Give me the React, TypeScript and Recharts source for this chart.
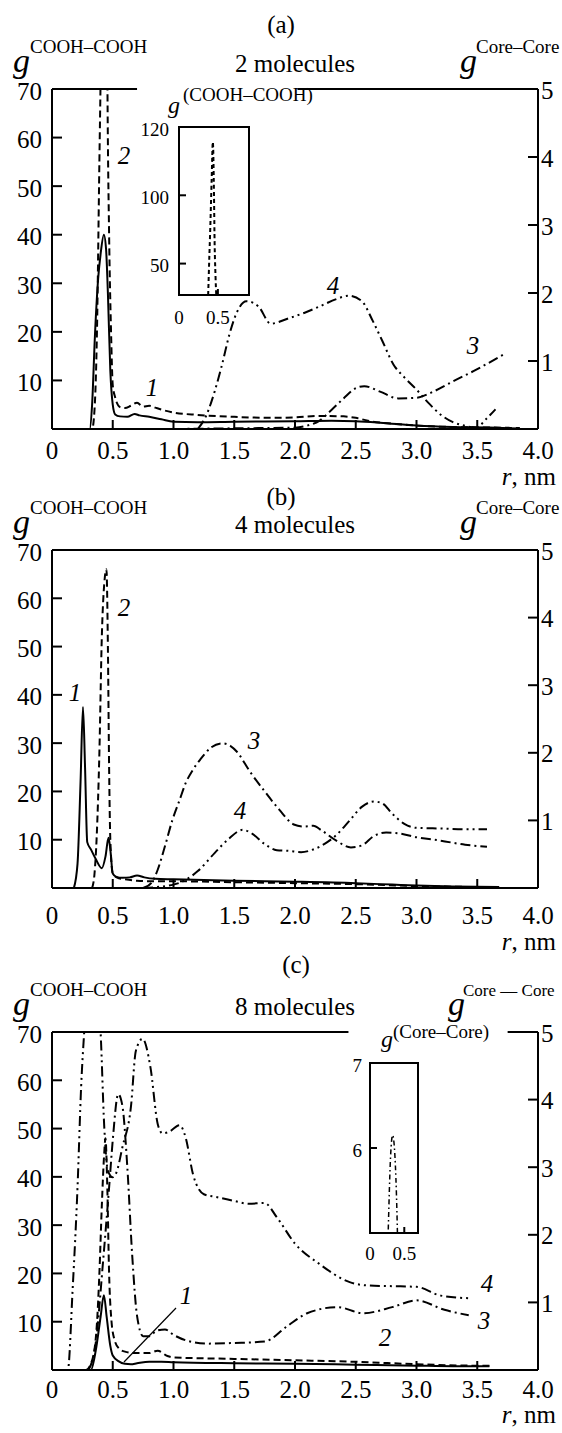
import React from 'react';
import { LineChart, Line, XAxis, YAxis, ReferenceLine, ReferenceArea } from 'recharts';

const FONT = 'Liberation Serif';

// ---------- axis ticks ----------
const xTicks = [0, 0.5, 1, 1.5, 2, 2.5, 3, 3.5, 4];
const xInner = [0.5, 1, 1.5, 2, 2.5, 3, 3.5];
const leftTicks = [10, 20, 30, 40, 50, 60, 70];
const leftInner = [10, 20, 30, 40, 50, 60];
const rightTicks = [1, 2, 3, 4, 5];
const rightInner = [1, 2, 3, 4];
const insetAXTicks = [0, 0.5];
const insetAYTicks = [50, 100];
const insetCXTicks = [0, 0.5];
const insetCYTicks = [6, 7];

// ---------- panel (a): 2 molecules ----------
const a1x = [0, 0.31, 0.33, 0.353, 0.38, 0.4, 0.427, 0.445, 0.46, 0.48, 0.5, 0.52, 0.56, 0.62, 0.68, 0.72, 0.8, 0.9, 1.0, 1.2, 1.5, 2.0, 2.3, 2.5, 2.7, 3.0, 3.3, 3.6, 3.85];
const a1y = [0, 0, 5, 19, 31, 36, 40, 37, 28, 12, 5, 3, 2.6, 2.5, 3.1, 2.8, 2.5, 2.0, 1.5, 1.4, 1.5, 1.6, 1.7, 1.6, 1.3, 0.7, 0.4, 0.3, 0.1];
const a2x = [0, 0.33, 0.35, 0.37, 0.39, 0.4, 0.42, 0.435, 0.45, 0.456, 0.47, 0.486, 0.5, 0.52, 0.56, 0.6, 0.65, 0.7, 0.75, 0.8, 0.85, 0.9, 1.0, 1.2, 1.5, 1.8, 2.0, 2.2, 2.4, 2.5, 2.6, 2.8, 3.0, 3.3, 3.6, 3.85];
const a2y = [0, 0, 4, 20, 55, 72, 112, 139, 100, 72, 40, 20, 9, 6.5, 4.5, 4.3, 4.8, 5.4, 4.6, 4.8, 4.4, 4.0, 3.4, 2.9, 2.5, 2.3, 2.4, 2.7, 2.6, 2.3, 1.7, 1.1, 0.7, 0.4, 0.3, 0.2];
const a3x = [1.0, 1.5, 2.0, 2.1, 2.2, 2.3, 2.4, 2.5, 2.57, 2.7, 2.85, 3.0, 3.15, 3.3, 3.5, 3.72];
const a3y = [0, 0.01, 0.02, 0.05, 0.12, 0.28, 0.45, 0.6, 0.63, 0.55, 0.45, 0.46, 0.56, 0.7, 0.88, 1.1];
const a4x = [1.2, 1.27, 1.34, 1.4, 1.46, 1.52, 1.6, 1.7, 1.8, 1.95, 2.08, 2.2, 2.34, 2.44, 2.55, 2.64, 2.72, 2.81, 2.9, 3.0, 3.1, 3.2, 3.3, 3.37, 3.49, 3.58, 3.65];
const a4y = [0, 0.2, 0.56, 0.95, 1.39, 1.71, 1.88, 1.8, 1.55, 1.63, 1.71, 1.8, 1.91, 1.96, 1.88, 1.59, 1.29, 0.95, 0.76, 0.58, 0.38, 0.21, 0.1, 0.06, 0.02, 0.16, 0.29];

// ---------- panel (b): 4 molecules ----------
const b1x = [0.18, 0.21, 0.235, 0.255, 0.272, 0.29, 0.32, 0.36, 0.41, 0.44, 0.465, 0.48, 0.5, 0.53, 0.58, 0.64, 0.7, 0.76, 0.85, 1.0, 1.5, 2.0, 2.5, 2.8, 3.0, 3.3, 3.68];
const b1y = [0, 5, 22, 37.5, 25, 9.5, 8, 6, 4.1, 6.5, 10.4, 8, 3, 2.3, 2.1, 2.2, 2.6, 2.2, 1.9, 1.8, 1.5, 1.3, 1.0, 0.7, 0.5, 0.3, 0.2];
const b2x = [0.33, 0.35, 0.368, 0.39, 0.41, 0.43, 0.448, 0.46, 0.47, 0.48, 0.5, 0.55, 0.6, 0.7, 0.8, 1.0, 1.5, 2.0, 2.5, 3.0, 3.5, 3.68];
const b2y = [0, 3, 10.7, 28, 52, 63, 66, 50, 25, 10, 3, 2, 1.8, 1.5, 1.4, 1.4, 1.2, 1.0, 0.8, 0.4, 0.2, 0.15];
const b3x = [0.75, 0.82, 0.87, 0.93, 0.99, 1.05, 1.1, 1.16, 1.22, 1.31, 1.4, 1.47, 1.52, 1.63, 1.75, 1.87, 1.99, 2.07, 2.15, 2.22, 2.34, 2.46, 2.55, 2.65, 2.75, 2.85, 3.0, 3.2, 3.4, 3.58];
const b3y = [0, 0.08, 0.27, 0.62, 1.0, 1.3, 1.55, 1.75, 1.9, 2.08, 2.14, 2.1, 2.02, 1.72, 1.43, 1.16, 0.94, 0.91, 0.92, 0.85, 0.7, 0.6, 0.63, 0.77, 0.82, 0.81, 0.75, 0.7, 0.64, 0.61];
const b4x = [0.75, 1.0, 1.1, 1.2, 1.34, 1.45, 1.57, 1.65, 1.75, 1.85, 1.95, 2.05, 2.15, 2.25, 2.35, 2.45, 2.55, 2.65, 2.72, 2.8, 2.9, 3.0, 3.2, 3.4, 3.58];
const b4y = [0, 0.05, 0.12, 0.25, 0.52, 0.72, 0.86, 0.8, 0.65, 0.56, 0.55, 0.53, 0.57, 0.66, 0.8, 1.0, 1.2, 1.28, 1.25, 1.1, 0.95, 0.89, 0.88, 0.87, 0.87];

// ---------- panel (c): 8 molecules ----------
const c1x = [0, 0.32, 0.36, 0.4, 0.427, 0.45, 0.48, 0.5, 0.55, 0.6, 0.65, 0.7, 0.8, 0.9, 1.0, 1.5, 2.0, 2.5, 3.0, 3.3, 3.6];
const c1y = [0, 0, 4, 11, 15.5, 11, 5, 3, 1.8, 1.3, 1.2, 1.4, 1.7, 1.7, 1.6, 1.4, 1.3, 1.1, 0.9, 0.8, 0.8];
const c2x = [0, 0.28, 0.33, 0.37, 0.39, 0.41, 0.43, 0.44, 0.455, 0.47, 0.49, 0.515, 0.55, 0.6, 0.7, 0.8, 0.87, 0.95, 1.0, 1.5, 2.0, 2.5, 3.0, 3.5, 3.6];
const c2y = [0, 0, 2, 9.7, 20, 34, 45, 48, 38, 20, 10, 6.2, 4.5, 3.8, 3.5, 3.5, 4, 2.9, 2.6, 2.3, 2.0, 1.7, 1.2, 0.9, 0.9];
const c3x = [0.3, 0.36, 0.42, 0.47, 0.5, 0.545, 0.58, 0.62, 0.66, 0.7, 0.75, 0.8, 0.86, 0.93, 1.0, 1.1, 1.28, 1.5, 1.75, 1.93, 2.1, 2.35, 2.56, 2.8, 3.0, 3.23, 3.43];
const c3y = [0, 0.4, 1.6, 2.7, 3.4, 4.08, 3.9, 3.0, 1.7, 0.8, 0.5, 0.5, 0.58, 0.6, 0.52, 0.44, 0.39, 0.4, 0.42, 0.64, 0.84, 0.93, 0.84, 0.93, 1.03, 0.89, 0.81];
const c4x = [0, 0.13, 0.17, 0.21, 0.24, 0.265, 0.3, 0.33, 0.37, 0.4, 0.43, 0.46, 0.5, 0.53, 0.58, 0.65, 0.69, 0.745, 0.81, 0.87, 0.91, 0.96, 1.05, 1.1, 1.16, 1.25, 1.35, 1.5, 1.62, 1.75, 1.85, 2.0, 2.2, 2.45, 2.6, 2.8, 3.0, 3.2, 3.45];
const c4y = [0, 0, 1.2, 2.7, 4.2, 5.0, 5.9, 6.15, 5.8, 5.0, 3.6, 2.95, 2.85, 2.92, 3.3, 3.9, 4.72, 4.9, 4.48, 3.64, 3.5, 3.52, 3.62, 3.44, 2.9, 2.6, 2.56, 2.5, 2.46, 2.47, 2.26, 1.87, 1.57, 1.3, 1.25, 1.24, 1.23, 1.1, 1.06];

const mk = (xs: number[], ys: number[]) => xs.map((x, i) => ({ x, y: ys[i] }));

const DASH2 = '7 4';
const DASH3 = '10 4 2 4';
const DASH4 = '10 4 2 4 2 4';

const near = (list: number[], v: number) => list.some((t) => Math.abs(t - v) < 1e-6);
const fmtX = (v: number) => (v === 0 ? '0' : v.toFixed(1));
const fmtY = (v: number) => String(v);

const tStyle = (size: number, italic = false): React.CSSProperties => ({
  fontFamily: FONT,
  fontSize: size,
  fontStyle: italic ? 'italic' : 'normal',
  fill: '#000',
});

function XTick(props: any) {
  const { x, y, payload, inner, len, dy, size, fmt } = props;
  const v = payload.value;
  return (
    <g>
      {near(inner, v) && <line x1={x} x2={x} y1={y} y2={y - len} stroke="#000" strokeWidth={2} />}
      <text x={x} y={y + dy} textAnchor="middle" dominantBaseline="central" style={tStyle(size)}>
        {fmt(v)}
      </text>
    </g>
  );
}
function LTick(props: any) {
  const { x, y, payload, inner, len, gap, size } = props;
  const v = payload.value;
  return (
    <g>
      {near(inner, v) && <line x1={x} x2={x + len} y1={y} y2={y} stroke="#000" strokeWidth={2} />}
      <text x={x - gap} y={y + 2} textAnchor="end" dominantBaseline="central" style={tStyle(size)}>
        {fmtY(v)}
      </text>
    </g>
  );
}
function RTick(props: any) {
  const { x, y, payload, inner, len, gap, size } = props;
  const v = payload.value;
  return (
    <g>
      {near(inner, v) && <line x1={x - len} x2={x} y1={y} y2={y} stroke="#000" strokeWidth={2} />}
      <text x={x + gap} y={y + 1} textAnchor="start" dominantBaseline="central" style={tStyle(size)}>
        {fmtY(v)}
      </text>
    </g>
  );
}

type Series = { data: { x: number; y: number }[]; axis: 'l' | 'r'; dash?: string };

function Panel({ top, plotH, tickDy, series, topSegs }: { top: number; plotH: number; tickDy: number; series: Series[]; topSegs: number[][] }) {
  const mt = 30;
  return (
    <div style={{ position: 'absolute', left: 0, top: top - mt }}>
      <LineChart width={562} height={mt + plotH + 60} margin={{ top: mt, right: 0, bottom: 0, left: 12 }}>
        <XAxis
          dataKey="x"
          type="number"
          domain={[0, 4]}
          ticks={xTicks}
          interval={0}
          allowDataOverflow
          height={60}
          tickSize={0}
          tickMargin={0}
          tickLine={false}
          axisLine={{ stroke: '#000', strokeWidth: 2 }}
          tick={(p: any) => <XTick {...p} inner={xInner} len={9} dy={tickDy} size={25} fmt={fmtX} />}
        />
        <YAxis
          yAxisId="l"
          orientation="left"
          width={40}
          domain={[0, 70]}
          ticks={leftTicks}
          interval={0}
          allowDataOverflow
          tickSize={0}
          tickMargin={0}
          tickLine={false}
          axisLine={{ stroke: '#000', strokeWidth: 2 }}
          tick={(p: any) => <LTick {...p} inner={leftInner} len={10} gap={10} size={25} />}
        />
        <YAxis
          yAxisId="r"
          orientation="right"
          width={24}
          domain={[0, 5]}
          ticks={rightTicks}
          interval={0}
          allowDataOverflow
          tickSize={0}
          tickMargin={0}
          tickLine={false}
          axisLine={{ stroke: '#000', strokeWidth: 2 }}
          tick={(p: any) => <RTick {...p} inner={rightInner} len={10} gap={3} size={25} />}
        />
        {topSegs.map((s, i) => (
          <ReferenceLine
            key={'t' + i}
            yAxisId="l"
            segment={[
              { x: s[0], y: 70 },
              { x: s[1], y: 70 },
            ]}
            stroke="#000"
            strokeWidth={2}
            ifOverflow="visible"
          />
        ))}
        {series.map((s, i) => (
          <Line
            key={i}
            data={s.data}
            dataKey="y"
            yAxisId={s.axis}
            type="monotone"
            stroke="#000"
            strokeWidth={2}
            strokeDasharray={s.dash}
            dot={false}
            activeDot={false}
            isAnimationActive={false}
          />
        ))}
      </LineChart>
    </div>
  );
}

function InsetA() {
  return (
    <div style={{ position: 'absolute', left: 139, top: 117 }}>
      <LineChart width={120} height={218} margin={{ top: 10, right: 10, bottom: 0, left: 0 }}>
        <XAxis
          dataKey="x"
          type="number"
          domain={[0, 0.9]}
          ticks={insetAXTicks}
          interval={0}
          allowDataOverflow
          height={40}
          tickSize={0}
          tickMargin={0}
          tickLine={false}
          axisLine={{ stroke: '#000', strokeWidth: 2 }}
          tick={(p: any) => <XTick {...p} inner={[0.5]} len={6} dy={22} size={19} fmt={fmtX} />}
        />
        <YAxis
          width={40}
          domain={[27, 150]}
          ticks={insetAYTicks}
          interval={0}
          allowDataOverflow
          tickSize={0}
          tickMargin={0}
          tickLine={false}
          axisLine={{ stroke: '#000', strokeWidth: 2 }}
          tick={(p: any) => <LTick {...p} inner={insetAYTicks} len={7} gap={10} size={19} />}
        />
        <ReferenceArea x1={0} x2={0.9} y1={27} y2={150} fill="none" stroke="#000" strokeWidth={2} ifOverflow="visible" />
        <Line data={mk(a2x, a2y)} dataKey="y" type="monotone" stroke="#000" strokeWidth={2} strokeDasharray="4 3" dot={false} activeDot={false} isAnimationActive={false} />
      </LineChart>
    </div>
  );
}

function InsetC() {
  return (
    <div style={{ position: 'absolute', left: 340, top: 1053 }}>
      <LineChart width={88} height={220} margin={{ top: 10, right: 10, bottom: 0, left: 0 }}>
        <XAxis
          dataKey="x"
          type="number"
          domain={[0, 0.7]}
          ticks={insetCXTicks}
          interval={0}
          allowDataOverflow
          height={40}
          tickSize={0}
          tickMargin={0}
          tickLine={false}
          axisLine={{ stroke: '#000', strokeWidth: 2 }}
          tick={(p: any) => <XTick {...p} inner={[0.5]} len={6} dy={20} size={19} fmt={fmtX} />}
        />
        <YAxis
          width={30}
          domain={[5, 7]}
          ticks={insetCYTicks}
          interval={0}
          allowDataOverflow
          tickSize={0}
          tickMargin={0}
          tickLine={false}
          axisLine={{ stroke: '#000', strokeWidth: 2 }}
          tick={(p: any) => <LTick {...p} inner={[6]} len={7} gap={8} size={19} />}
        />
        <ReferenceArea x1={0} x2={0.7} y1={5} y2={7} fill="none" stroke="#000" strokeWidth={2} ifOverflow="visible" />
        <Line data={mk(c4x, c4y)} dataKey="y" type="monotone" stroke="#000" strokeWidth={1.5} strokeDasharray="5 3 1.5 3" dot={false} activeDot={false} isAnimationActive={false} />
      </LineChart>
    </div>
  );
}

function Titles({ plotTop, plotBot, label, mol, labelX, labelDy, rightSup, rightGX, supDx, supSize, nmDy }: any) {
  return (
    <g>
      <text x={labelX} y={plotTop - labelDy} textAnchor="middle" dominantBaseline="central" style={tStyle(25)}>
        {label}
      </text>
      <text x={295} y={plotTop - 26} textAnchor="middle" dominantBaseline="central" style={tStyle(25)}>
        {mol}
      </text>
      <text x={13} y={plotTop - 17} style={tStyle(34, true)}>g</text>
      <text x={30} y={plotTop - 36} style={tStyle(19)}>COOH–COOH</text>
      <text x={rightGX} y={plotTop - 17} style={tStyle(34, true)}>g</text>
      <text x={rightGX + supDx} y={plotTop - 36} style={tStyle(supSize)}>{rightSup}</text>
      <text x={556} y={plotBot + nmDy} textAnchor="end" dominantBaseline="central" style={tStyle(25)}>
        <tspan style={{ fontStyle: 'italic' }}>r</tspan>, nm
      </text>
    </g>
  );
}

function CurveLabel({ x, y, t }: { x: number; y: number; t: string }) {
  return (
    <text x={x} y={y} textAnchor="middle" dominantBaseline="central" style={tStyle(25, true)}>
      {t}
    </text>
  );
}

export default function App() {
  return (
    <div style={{ position: 'absolute', left: 0, top: 0, width: 562, height: 1433, background: '#fff', overflow: 'hidden', fontFamily: FONT }}>
      <Panel
        top={89}
        plotH={340}
        tickDy={21}
        topSegs={[[0, 0.7], [2.02, 4]]}
        series={[
          { data: mk(a1x, a1y), axis: 'l' },
          { data: mk(a2x, a2y), axis: 'l', dash: DASH2 },
          { data: mk(a3x, a3y), axis: 'r', dash: DASH3 },
          { data: mk(a4x, a4y), axis: 'r', dash: DASH4 },
        ]}
      />
      <Panel
        top={550}
        plotH={338}
        tickDy={27}
        topSegs={[[0, 4]]}
        series={[
          { data: mk(b1x, b1y), axis: 'l' },
          { data: mk(b2x, b2y), axis: 'l', dash: DASH2 },
          { data: mk(b3x, b3y), axis: 'r', dash: DASH3 },
          { data: mk(b4x, b4y), axis: 'r', dash: DASH4 },
        ]}
      />
      <Panel
        top={1032}
        plotH={338}
        tickDy={19}
        topSegs={[[0, 2.44], [3.75, 4]]}
        series={[
          { data: mk(c1x, c1y), axis: 'l' },
          { data: mk(c2x, c2y), axis: 'l', dash: DASH2 },
          { data: mk(c3x, c3y), axis: 'r', dash: DASH3 },
          { data: mk(c4x, c4y), axis: 'r', dash: DASH4 },
        ]}
      />
      <InsetA />
      <InsetC />
      <svg width={562} height={1433} style={{ position: 'absolute', left: 0, top: 0, pointerEvents: 'none' }}>
        <Titles plotTop={89} plotBot={429} label="(a)" mol="2 molecules" labelX={281} labelDy={65} rightSup="Core–Core" rightGX={460} supDx={16} supSize={19} nmDy={47} />
        <Titles plotTop={550} plotBot={888} label="(b)" mol="4 molecules" labelX={281} labelDy={54} rightSup="Core–Core" rightGX={460} supDx={16} supSize={19} nmDy={53} />
        <Titles plotTop={1032} plotBot={1370} label="(c)" mol="8 molecules" labelX={296} labelDy={68} rightSup="Core — Core" rightGX={448} supDx={15} supSize={17} nmDy={44} />
        {/* inset (a) labels */}
        <text x={168} y={113} style={tStyle(24, true)}>g</text>
        <text x={183} y={101} style={tStyle(19)}>(COOH–COOH)</text>
        <text x={169} y={129} textAnchor="end" dominantBaseline="central" style={tStyle(19)}>120</text>
        {/* inset (c) labels */}
        <text x={381} y={1047} style={tStyle(24, true)}>g</text>
        <text x={393} y={1038} style={tStyle(19)}>(Core–Core)</text>
        {/* curve numbers */}
        <CurveLabel x={124} y={155} t="2" />
        <CurveLabel x={152} y={387} t="1" />
        <CurveLabel x={333} y={285} t="4" />
        <CurveLabel x={473} y={345} t="3" />
        <CurveLabel x={75} y={692} t="1" />
        <CurveLabel x={124} y={607} t="2" />
        <CurveLabel x={254} y={740} t="3" />
        <CurveLabel x={240} y={810} t="4" />
        <CurveLabel x={186} y={1295} t="1" />
        <CurveLabel x={385} y={1337} t="2" />
        <CurveLabel x={484} y={1320} t="3" />
        <CurveLabel x={487} y={1283} t="4" />
        <line x1={124} y1={1362} x2={176} y2={1308} stroke="#000" strokeWidth={1.2} />
      </svg>
    </div>
  );
}
